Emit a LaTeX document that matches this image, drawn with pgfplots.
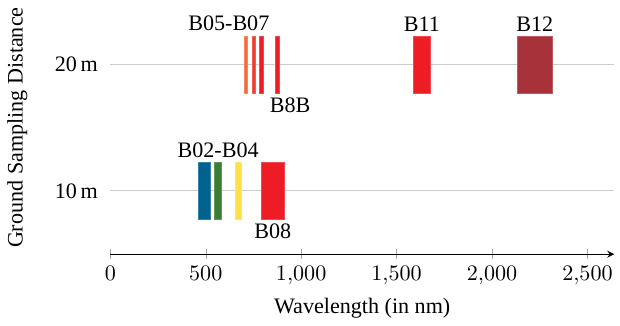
\documentclass[border=0pt]{standalone}
\usepackage{pgfplots}
\pgfplotsset{compat=1.18}
\usepackage{fontspec}
\setmainfont{Liberation Serif}
\definecolor{cB02}{HTML}{00628F}
\definecolor{cB03}{HTML}{3A7D33}
\definecolor{cB04}{HTML}{FFE047}
\definecolor{cB05}{HTML}{F26B3A}
\definecolor{cB06}{HTML}{EE3A2E}
\definecolor{cB07}{HTML}{EE1C25}
\definecolor{cB8A}{HTML}{EE1C25}
\definecolor{cB08}{HTML}{EE1C25}
\definecolor{cB11}{HTML}{EE1C25}
\definecolor{cB12}{HTML}{A8323A}
\begin{document}
\begin{tikzpicture}
\begin{axis}[
  scale only axis,
  width=228pt, height=114.5pt,
  xmin=0, xmax=2640, ymin=5, ymax=25,
  axis x line=bottom,
  x axis line style={-stealth, black},
  axis y line=left,
  y axis line style={draw=none},
  xtick={0,500,1000,1500,2000,2500},
  tick align=center,
  x tick style={gray!70},
  ytick={10,20},
  yticklabels={10\,m,20\,m},
  y tick style={draw=none},
  ymajorgrids,
  major grid style={gray!40},
  xlabel={Wavelength (in nm)},
  ylabel={Ground Sampling Distance},
  ylabel style={yshift=5.5pt},
  xlabel style={yshift=1pt},
  clip=false,
]
% 10 m bands
\addplot[fill=cB02, draw=cB02!80!white, very thin] coordinates {(460,7.75) (524,7.75) (524,12.25) (460,12.25)} -- cycle;
\addplot[fill=cB03, draw=cB03!80!white, very thin] coordinates {(545,7.75) (582,7.75) (582,12.25) (545,12.25)} -- cycle;
\addplot[fill=cB04, draw=cB04!80!white, very thin] coordinates {(655,7.75) (686,7.75) (686,12.25) (655,12.25)} -- cycle;
\addplot[fill=cB08, draw=cB08!80!white, very thin] coordinates {(791,7.75) (909,7.75) (909,12.25) (791,12.25)} -- cycle;
% 20 m bands
\addplot[fill=cB05, draw=cB05!80!white, very thin] coordinates {(703,17.75) (720,17.75) (720,22.25) (703,22.25)} -- cycle;
\addplot[fill=cB06, draw=cB06!80!white, very thin] coordinates {(741,17.75) (758,17.75) (758,22.25) (741,22.25)} -- cycle;
\addplot[fill=cB07, draw=cB07!80!white, very thin] coordinates {(780,17.75) (799,17.75) (799,22.25) (780,22.25)} -- cycle;
\addplot[fill=cB8A, draw=cB8A!80!white, very thin] coordinates {(865,17.75) (884,17.75) (884,22.25) (865,22.25)} -- cycle;
\addplot[fill=cB11, draw=cB11!80!white, very thin] coordinates {(1587,17.75) (1676,17.75) (1676,22.25) (1587,22.25)} -- cycle;
\addplot[fill=cB12, draw=cB12!80!white, very thin] coordinates {(2133,17.75) (2315,17.75) (2315,22.25) (2133,22.25)} -- cycle;
% labels
\node[anchor=south, inner sep=2pt] at (axis cs:621,22.25) {B05-B07};
\node[anchor=north, inner sep=2pt] at (axis cs:942,17.75) {B8B};
\node[anchor=south, inner sep=2pt] at (axis cs:1632,22.25) {B11};
\node[anchor=south, inner sep=2pt] at (axis cs:2224,22.25) {B12};
\node[anchor=south, inner sep=2pt] at (axis cs:565,12.25) {B02-B04};
\node[anchor=north, inner sep=2pt] at (axis cs:851,7.75) {B08};
\end{axis}
\end{tikzpicture}
\end{document}
